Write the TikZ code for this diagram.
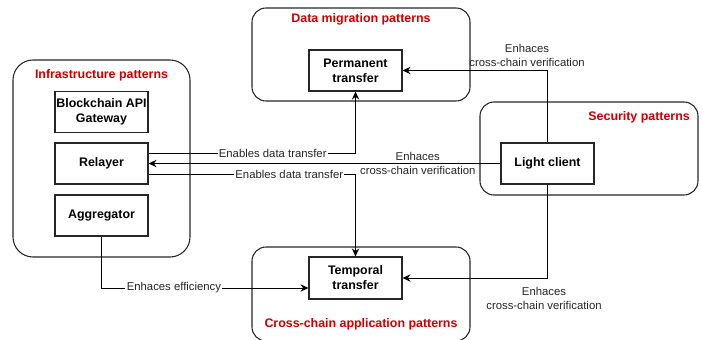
\documentclass[tikz,border=0pt]{standalone}
\usepackage{fontspec}
\setmainfont{Liberation Sans}
\usetikzlibrary{arrows.meta}
\definecolor{titlered}{RGB}{204,0,0}
\begin{document}
\begin{tikzpicture}[x=0.75pt,y=-0.75pt,
  container/.style={draw=black!85, line width=0.8pt, rounded corners=#1, inner sep=0pt},
  container/.default=10.5pt,
  pbox/.style={draw=black!85, line width=0.8pt, minimum width=69.75pt, minimum height=30.75pt,
    inner sep=0pt, align=center, font=\fontsize{9.3pt}{11.2pt}\selectfont\bfseries},
  ptitle/.style={text=titlered, inner sep=0pt, font=\fontsize{9.3pt}{11.2pt}\selectfont\bfseries},
  lbl/.style={inner sep=1pt, align=center, text=black!85, font=\fontsize{8.5pt}{10.5pt}\selectfont},
  arr/.style={draw=black, line width=0.75pt, -{Stealth[length=6pt,width=5.5pt,inset=2pt]}}
]
\useasboundingbox (0,0) rectangle (702,339);
% containers
\node[container=15pt, minimum width=132.75pt, minimum height=147.75pt] (infra) at (101.5,158.5) {};
\node[container, minimum width=163.5pt, minimum height=69.75pt] (dm) at (361,54.5) {};
\node[container, minimum width=163.5pt, minimum height=69.75pt] (sec) at (589,148.5) {};
\node[container, minimum width=163.5pt, minimum height=70.5pt] (cc) at (361,294) {};
% titles
\node[ptitle] (tinfra) at (101.5,75) {Infrastructure patterns};
\node[ptitle] (tdm) at (361,19) {Data migration patterns};
\node[ptitle, anchor=east] (tsec) at (690,117) {Security patterns};
\node[ptitle] (tcc) at (361,324) {Cross-chain application patterns};
% boxes
\node[pbox] (gw) at (101.5,112) {Blockchain API\\Gateway};
\node[pbox] (relayer) at (101.5,163.5) {Relayer};
\node[pbox] (agg) at (101.5,215.5) {Aggregator};
\node[pbox] (perm) at (355.5,70.5) {Permanent\\transfer};
\node[pbox] (light) at (547.5,163.5) {Light client};
\node[pbox, minimum height=31.5pt] (temp) at (355.5,278) {Temporal\\transfer};
% connectors
\draw[arr] ([yshift=7.875pt]relayer.east) -| (perm.south)
  node[lbl, fill=white, pos=0.30] {Enables data transfer};
\draw[arr] ([yshift=-7.875pt]relayer.east) -| (temp.north)
  node[lbl, fill=white, pos=0.34] {Enables data transfer};
\draw[arr] (light.west) -- (relayer.east)
  node[lbl, pos=0.235] {Enhaces\\cross-chain verification};
\draw[arr] (light.north) |- (perm.east);
\node[lbl] (l1) at (527,55.5) {Enhaces\\cross-chain verification};
\draw[arr] (light.south) |- (temp.east);
\node[lbl] (l2) at (544,298.5) {Enhaces\\cross-chain verification};
\draw[arr] (agg.south) |- ([yshift=-7.5pt]temp.west)
  node[lbl, fill=white, pos=0.675] {Enhaces efficiency};
\end{tikzpicture}
\end{document}
